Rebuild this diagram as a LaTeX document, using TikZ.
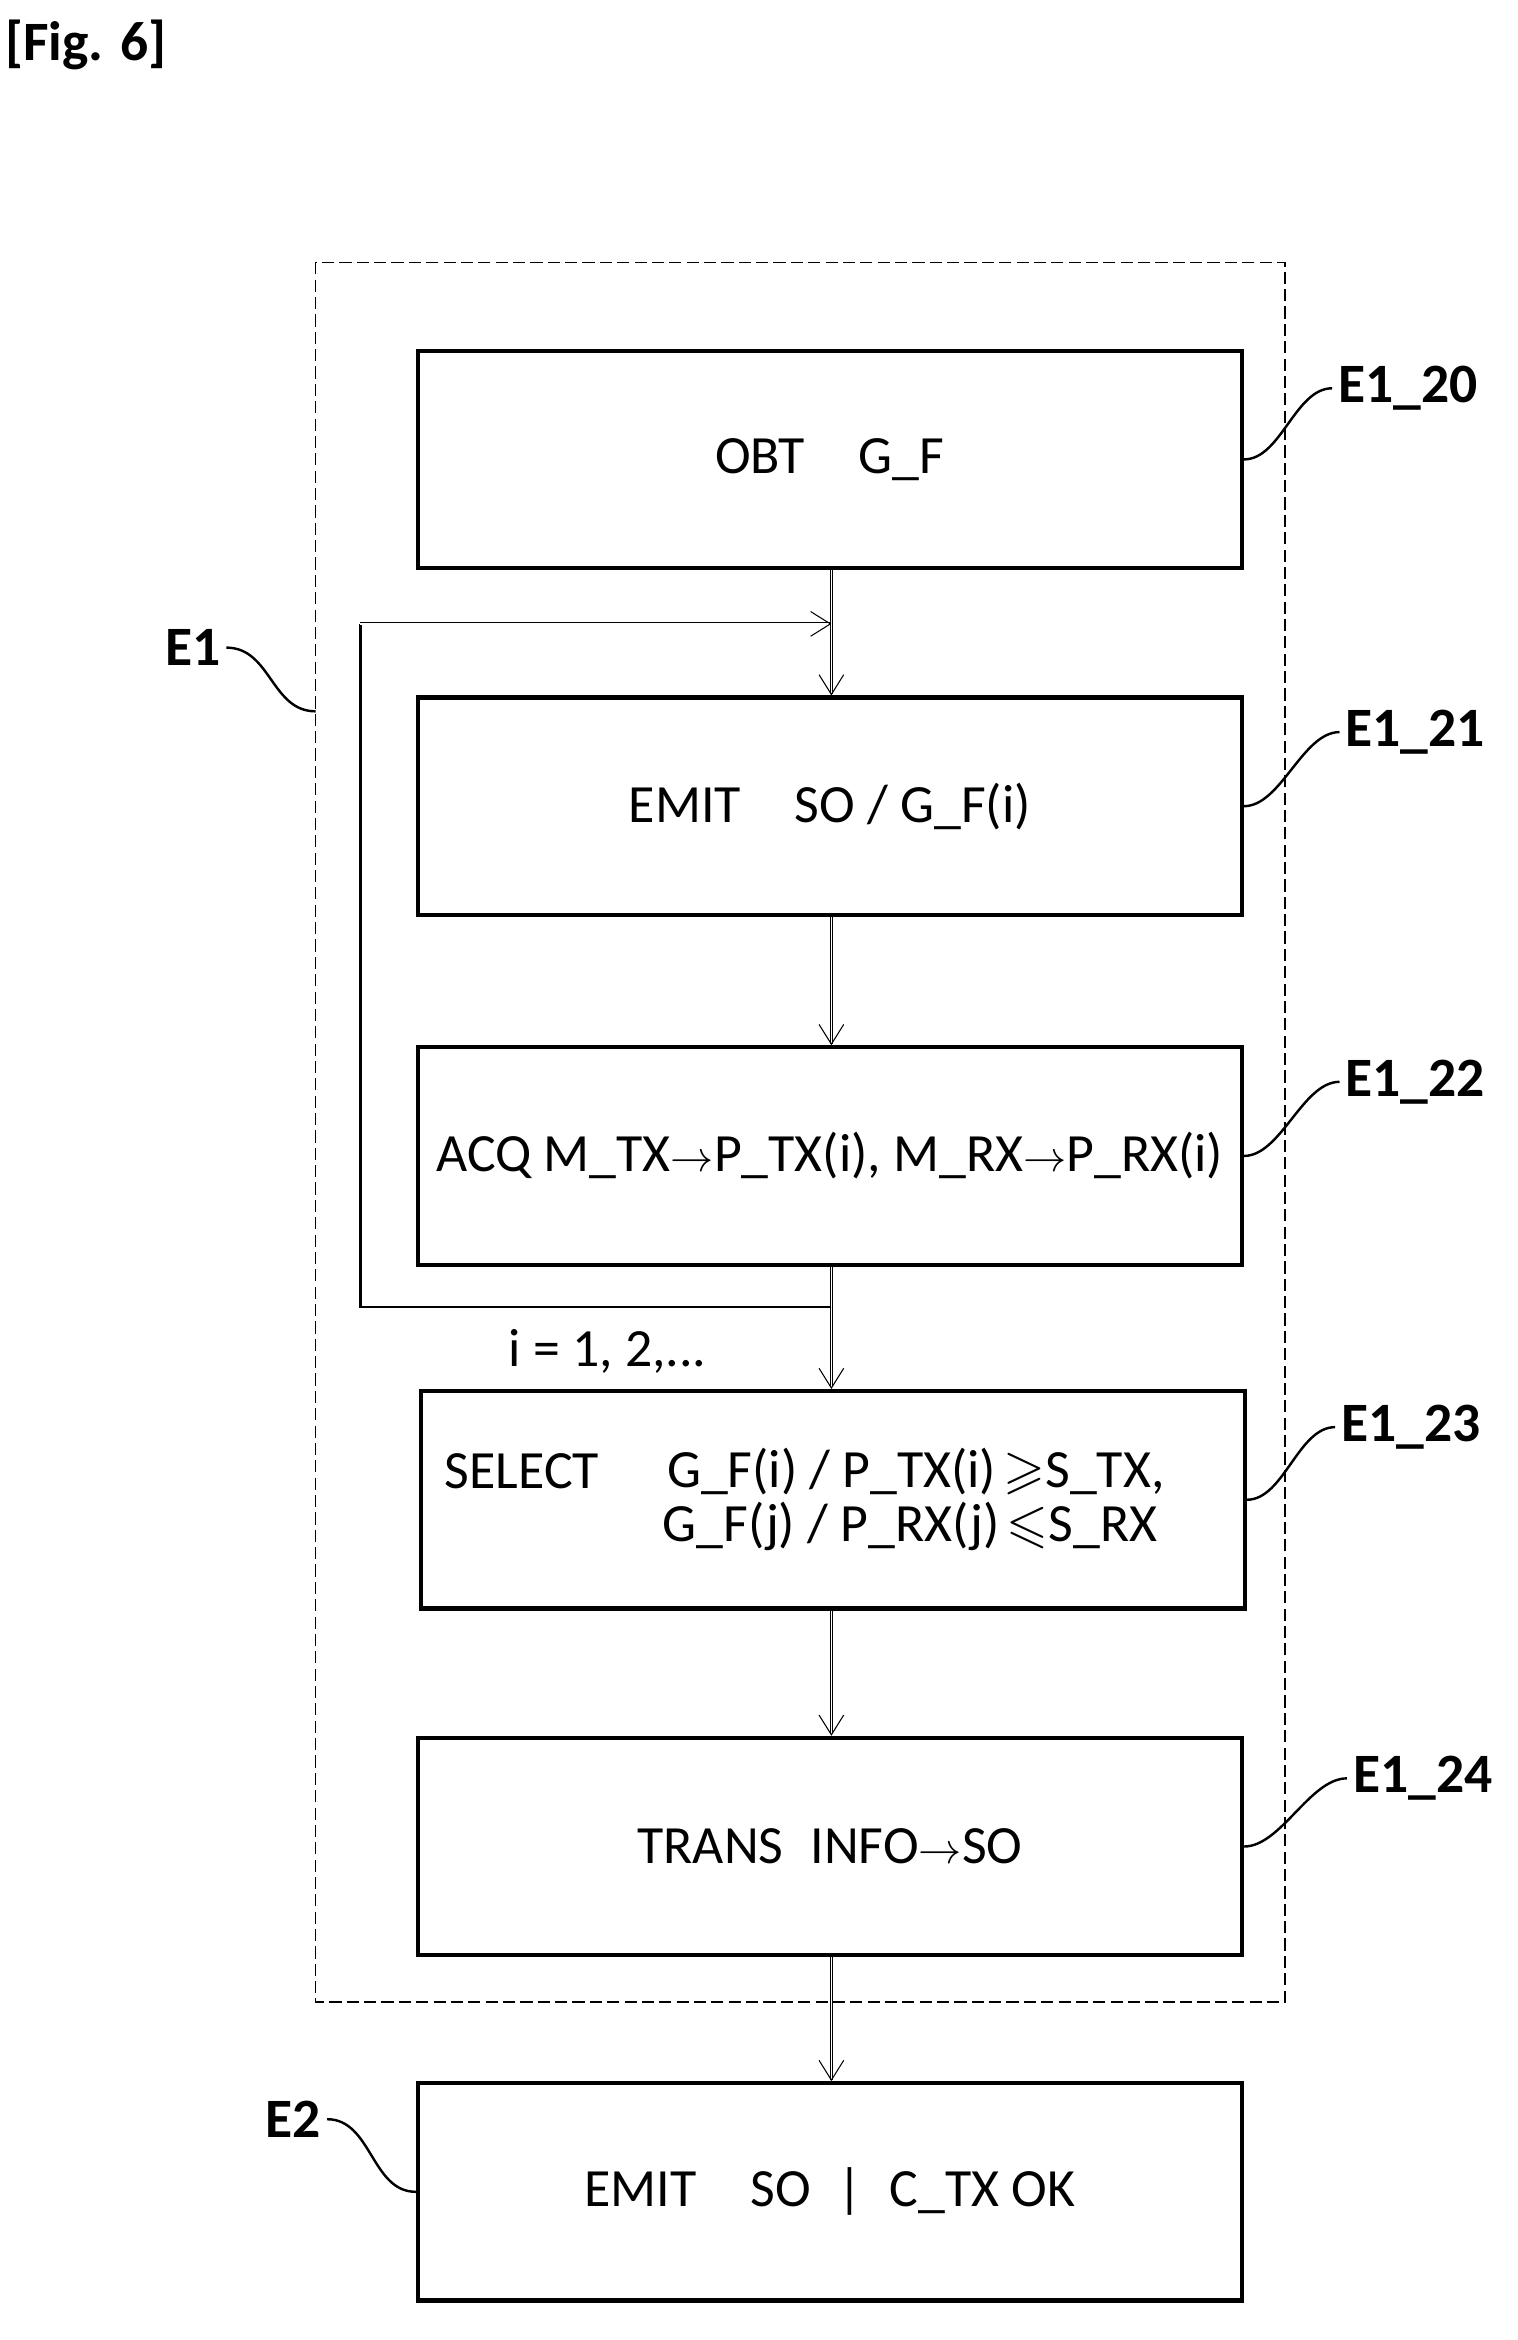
\documentclass[tikz,border=0pt]{standalone}
\usepackage{fontspec}
\setmainfont{Carlito}
\usepackage{amssymb}
\usetikzlibrary{arrows.meta,positioning}
\tikzset{
  stepbox/.style={draw,line width=2.4pt,minimum width=166.8mm,minimum height=44mm,font=\fontsize{31}{36}\selectfont},
  lbl/.style={font=\bfseries\fontsize{32}{36}\selectfont},
  flow/.style={double,double distance=0.7pt,line width=0.5pt,-{Straight Barb[length=4mm,width=5mm,line width=0.6pt]}},
  tie/.style={line width=1.4pt}
}
\begin{document}
\begin{tikzpicture}[x=0.3mm,y=-0.3mm]
  \useasboundingbox (0,0) rectangle (1024,1579);
  \node[lbl] (fig) at (58,30) {[Fig. 6]};
  % dashed frame of E1
  \draw[dash pattern=on 7pt off 3pt,line width=0.8pt] (213,177) rectangle (867,1351);
  \coordinate (frameW) at (213,480);
  % steps
  \node[stepbox] (s20) at (560,310) {OBT\quad G\_F};
  \node[stepbox] (s21) at (560,544) {EMIT\quad SO / G\_F(i)};
  \node[stepbox,inner sep=1pt] (s22) at (560,780) {ACQ M\_TX$\rightarrow$P\_TX(i), M\_RX$\rightarrow$P\_RX(i)};
  \node[stepbox] (s23) at (562,1012) {};
  \node[font=\fontsize{31}{36}\selectfont,anchor=west] (t23a) at (296,993) {SELECT};
  \node[font=\fontsize{31}{36}\selectfont,anchor=east] (t23b) at (790,993) {G\_F(i) / P\_TX(i)$\,\geqslant$S\_TX,};
  \node[font=\fontsize{31}{36}\selectfont,anchor=east] (t23c) at (785,1030) {G\_F(j) / P\_RX(j)$\,\leqslant$S\_RX};
  \node[stepbox] (s24) at (560,1246) {TRANS\; INFO$\rightarrow$SO};
  \node[stepbox] (e2) at (560,1479) {EMIT\quad SO\; |\; C\_TX OK};
  % flow
  \draw[flow] (s20.south -| 561,0) -- (s21.north -| 561,0);
  \draw[flow] (s21.south -| 561,0) -- (s22.north -| 561,0);
  \draw[flow] (s22.south -| 561,0) -- (s23.north -| 561,0);
  \draw[flow] (s23.south -| 561,0) -- (s24.north -| 561,0);
  \draw[flow] (s24.south -| 561,0) -- (e2.north -| 561,0);
  % loop
  \coordinate (loopA) at (561,882);
  \coordinate (loopB) at (561,421);
  \draw[line width=1.6pt] (loopA) -- (243,882) -- (243,421);
  \draw[flow] (243,421) -- (loopB);
  \node[font=\fontsize{31}{36}\selectfont] (idx) at (410,912) {i = 1, 2,...};
  % reference labels
  \node[lbl] (l20) at (950,262) {E1\_20};
  \node[lbl] (l21) at (955,494) {E1\_21};
  \node[lbl] (l22) at (955,730) {E1\_22};
  \node[lbl] (l23) at (952,963) {E1\_23};
  \node[lbl] (l24) at (960,1200) {E1\_24};
  \node[lbl] (l1) at (130,437) {E1};
  \node[lbl] (l2) at (198,1430) {E2};
  \foreach \b/\l in {s20/l20,s21/l21,s22/l22,s23/l23,s24/l24}
    \draw[tie] (\b.east) .. controls +(25,0) and +(-25,0) .. (\l.west);
  \draw[tie] (l1.east) .. controls +(30,0) and +(-30,0) .. (frameW);
  \draw[tie] (l2.east) .. controls +(30,0) and +(-30,0) .. (e2.west);
\end{tikzpicture}
\end{document}
